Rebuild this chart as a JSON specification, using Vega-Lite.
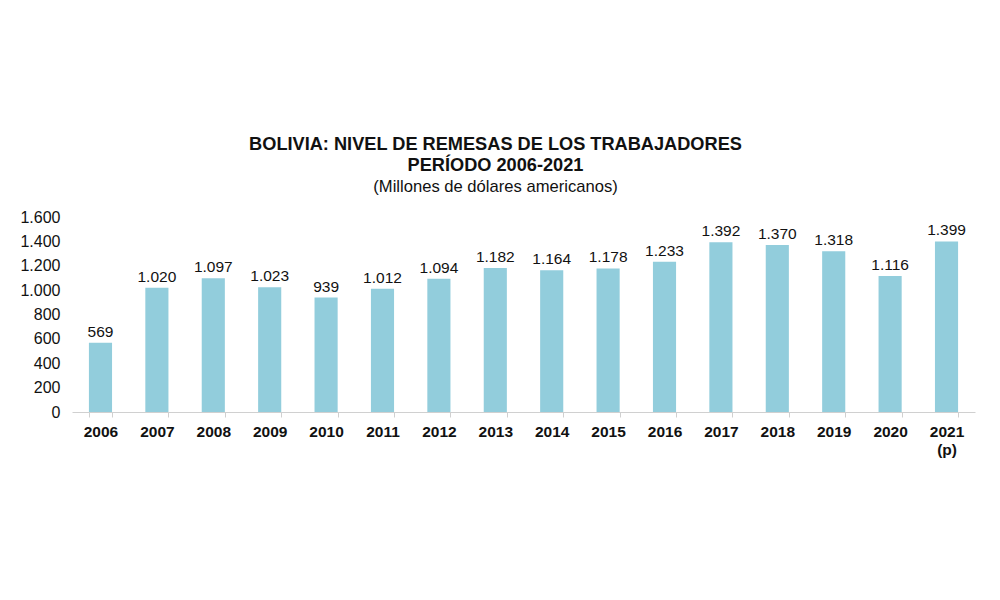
{
  "$schema": "https://vega.github.io/schema/vega-lite/v6.json",
  "width": 903,
  "height": 195,
  "autosize": {"type": "none"},
  "padding": {"left": 72, "top": 217, "right": 25, "bottom": 188},
  "background": "white",
  "config": {
    "locale": {"number": {"decimal": ",", "thousands": ".", "grouping": [3], "currency": ["$", ""]}},
    "font": "Liberation Sans",
    "view": {"stroke": null}
  },
  "title": {
    "text": ["BOLIVIA: NIVEL DE REMESAS DE LOS TRABAJADORES", "PERÍODO 2006-2021"],
    "subtitle": "(Millones de dólares americanos)",
    "font": "Liberation Sans",
    "fontSize": 18.2,
    "fontWeight": "bold",
    "color": "#111111",
    "lineHeight": 21.5,
    "subtitleFont": "Liberation Sans",
    "subtitleFontSize": 16.6,
    "subtitleColor": "#111111",
    "subtitlePadding": 4,
    "anchor": "middle",
    "dx": -28,
    "offset": 12
  },
  "data": {
    "values": [
      {"anio": "2006", "valor": 569},
      {"anio": "2007", "valor": 1020},
      {"anio": "2008", "valor": 1097},
      {"anio": "2009", "valor": 1023},
      {"anio": "2010", "valor": 939},
      {"anio": "2011", "valor": 1012},
      {"anio": "2012", "valor": 1094},
      {"anio": "2013", "valor": 1182},
      {"anio": "2014", "valor": 1164},
      {"anio": "2015", "valor": 1178},
      {"anio": "2016", "valor": 1233},
      {"anio": "2017", "valor": 1392},
      {"anio": "2018", "valor": 1370},
      {"anio": "2019", "valor": 1318},
      {"anio": "2020", "valor": 1116},
      {"anio": "2021", "valor": 1399}
    ]
  },
  "encoding": {
    "x": {
      "field": "anio",
      "type": "nominal",
      "sort": null,
      "scale": {"paddingInner": 0.59, "paddingOuter": 0.3},
      "axis": {
        "title": null,
        "labelAngle": 0,
        "labelFontSize": 15.5,
        "labelFontWeight": "bold",
        "labelColor": "#111111",
        "labelPadding": 7,
        "labelExpr": "datum.value == '2021' ? ['2021', '(p)'] : datum.value",
        "labelLineHeight": 18,
        "domainColor": "#d0d0d0",
        "tickColor": "#d0d0d0",
        "tickBand": "extent",
        "tickSize": 5
      }
    },
    "y": {
      "field": "valor",
      "type": "quantitative",
      "scale": {"domain": [0, 1600]},
      "axis": {
        "title": null,
        "values": [0, 200, 400, 600, 800, 1000, 1200, 1400, 1600],
        "format": ",d",
        "labelFontSize": 16,
        "labelColor": "#111111",
        "labelPadding": 12,
        "domain": false,
        "ticks": false,
        "grid": false
      }
    }
  },
  "layer": [
    {"mark": {"type": "bar", "color": "#92CDDC"}},
    {
      "mark": {"type": "text", "baseline": "bottom", "dy": -3, "fontSize": 15.5, "color": "#111111"},
      "encoding": {"text": {"field": "valor", "type": "quantitative", "format": ",d"}}
    }
  ]
}
